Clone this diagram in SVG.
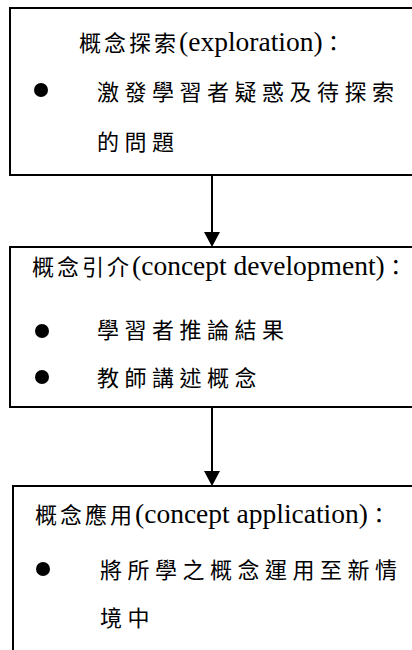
<svg xmlns="http://www.w3.org/2000/svg" width="412" height="650" viewBox="0 0 412 650">
  <style>
    .box { fill: #ffffff; stroke: #000000; stroke-width: 2; }
    .cjk { font-family: "Noto Sans CJK TC", "Liberation Serif", serif; font-size: 22px; fill: #000; }
    .head { letter-spacing: 3px; }
    .lat { font-family: "Liberation Serif", "Noto Sans CJK TC", serif; font-size: 27.5px; letter-spacing: 0; }
    .item { letter-spacing: 5.5px; }
    .conn { stroke: #000; stroke-width: 2; fill: none; }
    .dot { fill: #000; }
  </style>
  <rect width="412" height="650" fill="#ffffff"/>

  <g id="connectors">
    <line class="conn" x1="212" y1="175" x2="212" y2="232"/>
    <polygon points="204,232 220,232 212,247" fill="#000"/>
    <line class="conn" x1="212" y1="407" x2="212" y2="471"/>
    <polygon points="204,471 220,471 212,486" fill="#000"/>
  </g>

  <g id="exploration">
    <rect class="box" x="10" y="8" width="410" height="167"/>
    <text class="cjk" x="79" y="51"><tspan class="head">概念探索</tspan><tspan class="lat">(exploration)</tspan>：</text>
    <circle class="dot" cx="41" cy="90" r="7"/>
    <text class="cjk item" x="97" y="100">激發學習者疑惑及待探索</text>
    <text class="cjk item" x="97" y="150">的問題</text>
  </g>

  <g id="development">
    <rect class="box" x="10" y="247" width="410" height="160"/>
    <text class="cjk" x="32" y="275"><tspan class="head">概念引介</tspan><tspan class="lat">(concept development)</tspan>：</text>
    <circle class="dot" cx="42" cy="331" r="7"/>
    <text class="cjk item" x="97" y="338">學習者推論結果</text>
    <circle class="dot" cx="42" cy="377" r="7"/>
    <text class="cjk item" x="97" y="386">教師講述概念</text>
  </g>

  <g id="application">
    <rect class="box" x="13" y="486" width="410" height="180"/>
    <text class="cjk" x="35" y="523"><tspan class="head">概念應用</tspan><tspan class="lat">(concept application)</tspan>：</text>
    <circle class="dot" cx="43" cy="569" r="7"/>
    <text class="cjk item" x="100" y="578">將所學之概念運用至新情</text>
    <text class="cjk item" x="100" y="626">境中</text>
  </g>
</svg>
